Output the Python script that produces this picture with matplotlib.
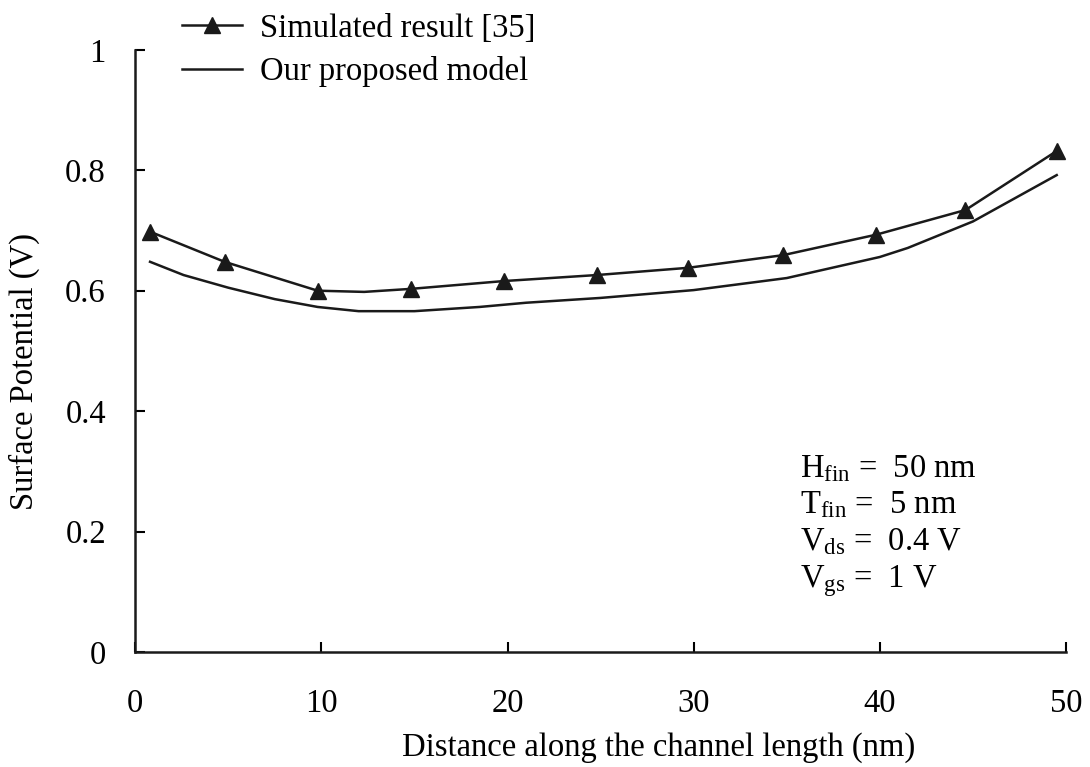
import matplotlib
matplotlib.use("Agg")
import matplotlib.pyplot as plt

# values
sim_x = [0.8, 4.8, 9.8, 12.3, 14.8, 19.8, 24.8, 29.7, 34.8, 39.8, 44.6, 49.5]
sim_y = [0.698, 0.648, 0.600, 0.598, 0.603, 0.616, 0.626, 0.638, 0.659, 0.693, 0.734, 0.832]
sim_marks = [0, 1, 2, 4, 5, 6, 7, 8, 9, 10, 11]

model_x = [0.8, 2.6, 5, 7.5, 9.8, 12, 15, 18.5, 21, 25, 30, 35, 40, 41.5, 45, 49.5]
model_y = [0.648, 0.626, 0.605, 0.586, 0.573, 0.566, 0.566, 0.573, 0.580, 0.588,
           0.601, 0.621, 0.656, 0.671, 0.715, 0.792]

x_ticks = [0, 10, 20, 30, 40, 50]
y_ticks = [0, 0.2, 0.4, 0.6, 0.8, 1]
y_labels = ["0", "0.2", "0.4", "0.6", "0.8", "1"]

params = [r"H$_{\mathrm{fin}}$ =  50 nm",
          r"T$_{\mathrm{fin}}$ =  5 nm",
          r"V$_{\mathrm{ds}}$ =  0.4 V",
          r"V$_{\mathrm{gs}}$ =  1 V"]

plt.rcParams["font.family"] = ["Liberation Serif", "DejaVu Serif"]
plt.rcParams["mathtext.fontset"] = "custom"
plt.rcParams["mathtext.rm"] = "Liberation Serif"
plt.rcParams["mathtext.it"] = "Liberation Serif:italic"
plt.rcParams["mathtext.bf"] = "Liberation Serif:bold"

FS = 23.5
fig = plt.figure(figsize=(10.9, 7.67), dpi=100)
ax = fig.add_axes([0.124, 0.15, 0.854, 0.785])

ax.plot(sim_x, sim_y, color="#1a1a1a", linewidth=1.8, marker="^", markersize=11,
        markevery=sim_marks, label="Simulated result [35]")
ax.plot(model_x, model_y, color="#1a1a1a", linewidth=1.8, label="Our proposed model")

ax.set_xlim(0, 50)
ax.set_ylim(0, 1)
ax.set_xticks(x_ticks)
ax.set_yticks(y_ticks)
ax.set_yticklabels(y_labels)
ax.tick_params(axis="x", direction="in", length=7, width=1.5, pad=26, labelsize=FS)
ax.tick_params(axis="y", direction="in", length=7, width=1.5, pad=21, labelsize=FS)
for s in ["top", "right"]:
    ax.spines[s].set_visible(False)
for s in ["left", "bottom"]:
    ax.spines[s].set_linewidth(1.8)
    ax.spines[s].set_color("#1a1a1a")

ax.set_xlabel("Distance along the channel length (nm)", fontsize=FS)
ax.set_ylabel("Surface Potential (V)", fontsize=FS)
ax.xaxis.set_label_coords(0.562, -0.133)
ax.yaxis.set_label_coords(-0.102, 0.465)

ys = [0.291, 0.231, 0.169, 0.108]
for txt, yy in zip(params, ys):
    ax.text(35.7, yy, txt, fontsize=FS, va="baseline", ha="left")

fig.legend(loc="upper left", bbox_to_anchor=(0.155, 1.0), frameon=False, fontsize=FS,
           handlelength=1.85, handletextpad=0.55, labelspacing=0.38, borderaxespad=0.0)

fig.savefig("out.png", dpi=100)
